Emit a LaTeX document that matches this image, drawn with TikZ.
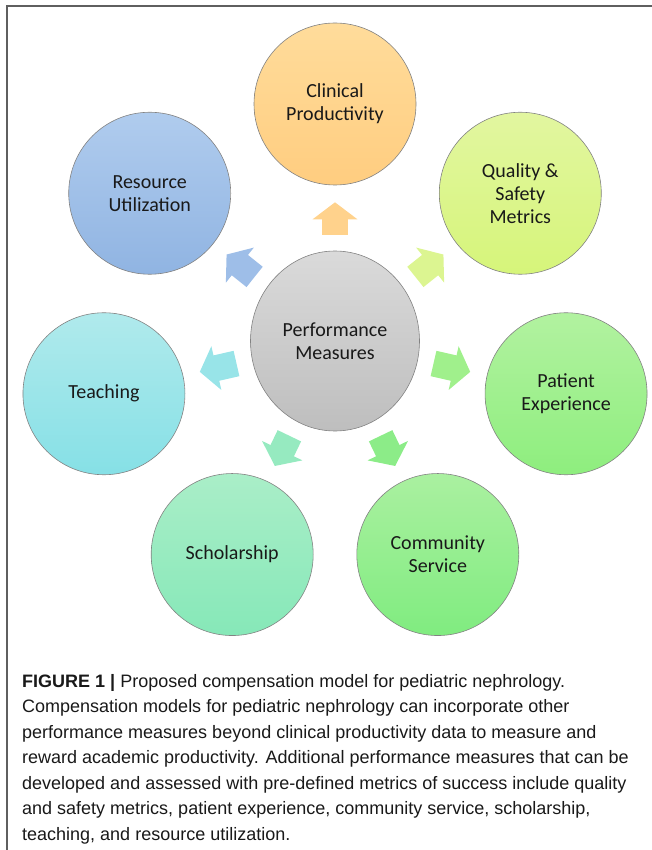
\documentclass[tikz,border=0pt]{standalone}
\usepackage{fontspec}
\setmainfont{Carlito}
\newfontfamily\capfont{Liberation Sans}
\usetikzlibrary{arrows.meta,shapes.geometric,calc}

\definecolor{frameGray}{RGB}{95,95,95}
\definecolor{rimGray}{RGB}{130,130,130}
\definecolor{inkBlack}{RGB}{25,25,25}
\definecolor{perfTop}{RGB}{218,218,218}
\definecolor{perfBot}{RGB}{190,190,190}
\definecolor{clinTop}{RGB}{255,220,155}
\definecolor{clinBot}{RGB}{255,205,128}
\definecolor{qualTop}{RGB}{226,246,160}
\definecolor{qualBot}{RGB}{214,245,122}
\definecolor{patTop}{RGB}{178,242,160}
\definecolor{patBot}{RGB}{142,238,126}
\definecolor{commTop}{RGB}{170,240,160}
\definecolor{commBot}{RGB}{128,236,128}
\definecolor{scholTop}{RGB}{170,238,200}
\definecolor{scholBot}{RGB}{134,232,184}
\definecolor{teachTop}{RGB}{176,234,236}
\definecolor{teachBot}{RGB}{134,224,230}
\definecolor{resTop}{RGB}{176,204,238}
\definecolor{resBot}{RGB}{144,180,226}

\begin{document}
\begin{tikzpicture}[x=1pt, y=1pt]
    % Define styles
    \tikzstyle{measure} = [circle, draw=rimGray, line width=0.6pt, minimum size=162pt, inner sep=0pt, align=center, text=inkBlack, font=\fontsize{20}{23}\selectfont]
    \tikzstyle{push} = [line width=26pt, -{Triangle[width=44pt,length=17pt]}, shorten <=16pt, shorten >=17pt]
    \tikzstyle{frame} = [draw=frameGray, line width=1.3pt]

    \useasboundingbox (0,0) rectangle (652,-850);

    % Frame lines
    \draw [frame] (652,-6) -- (7,-6) -- (7,-850);

    % Central node
    \node [measure, ellipse, minimum width=169pt, minimum height=180pt, top color=perfTop, bottom color=perfBot] (perf) at (335,-341) {Performance\\Measures};

    % Outer measures
    \node [measure, top color=clinTop, bottom color=clinBot] (clinical) at ($(perf)+(90:237)$) {Clinical\\Productivity};
    \node [measure, top color=qualTop, bottom color=qualBot] (quality) at ($(perf)+(38.57:237)$) {Quality \&\\Safety\\Metrics};
    \node [measure, top color=patTop, bottom color=patBot] (patient) at ($(perf)+(-12.86:237)$) {Patient\\Experience};
    \node [measure, top color=commTop, bottom color=commBot] (community) at ($(perf)+(-64.29:237)$) {Community\\Service};
    \node [measure, top color=scholTop, bottom color=scholBot] (scholarship) at ($(perf)+(-115.71:237)$) {Scholarship};
    \node [measure, top color=teachTop, bottom color=teachBot] (teaching) at ($(perf)+(-167.14:237)$) {Teaching};
    \node [measure, top color=resTop, bottom color=resBot] (resource) at ($(perf)+(141.43:237)$) {Resource\\Utilization};

    % Block arrows
    \draw [push, draw={rgb,255:red,255;green,210;blue,140}] (perf) -- (clinical);
    \draw [push, draw={rgb,255:red,220;green,245;blue,145}] (perf) -- (quality);
    \draw [push, draw={rgb,255:red,160;green,240;blue,140}] (perf) -- (patient);
    \draw [push, draw={rgb,255:red,140;green,236;blue,136}] (perf) -- (community);
    \draw [push, draw={rgb,255:red,150;green,234;blue,192}] (perf) -- (scholarship);
    \draw [push, draw={rgb,255:red,152;green,228;blue,232}] (perf) -- (teaching);
    \draw [push, draw={rgb,255:red,158;green,190;blue,232}] (perf) -- (resource);

    % Caption
    \node [anchor=base west, align=left, inner sep=0pt, text=inkBlack, font=\capfont\fontsize{18}{25.5}\selectfont] (caption) at (22,-840) {\textbf{FIGURE 1 |} Proposed compensation model for pediatric nephrology.\\
Compensation models for pediatric nephrology can incorporate other\\
performance measures beyond clinical productivity data to measure and\\
reward academic productivity. Additional performance measures that can be\\
developed and assessed with pre-defined metrics of success include quality\\
and safety metrics, patient experience, community service, scholarship,\\
teaching, and resource utilization.};
\end{tikzpicture}
\end{document}
